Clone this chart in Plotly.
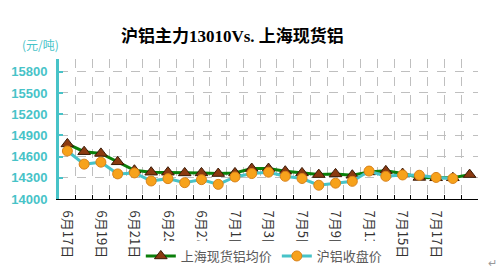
import plotly.graph_objects as go

dates = ["6月17日", "6月18日", "6月19日", "6月20日", "6月21日", "6月24日", "6月25日",
         "6月26日", "6月27日", "6月28日", "7月1日", "7月2日", "7月3日", "7月4日",
         "7月5日", "7月8日", "7月9日", "7月10日", "7月11日", "7月12日", "7月15日",
         "7月16日", "7月17日", "7月18日", "7月19日"]
spot_avg = [14779, 14669, 14645, 14526, 14407, 14379, 14379, 14369, 14369, 14360,
            14369, 14431, 14431, 14393, 14369, 14345, 14355, 14336, 14383, 14398,
            14360, 14305, 14300, 14300, 14345]
futures_close = [14679, 14493, 14521, 14355, 14369, 14255, 14288, 14231, 14274, 14207,
                 14312, 14360, 14379, 14321, 14290, 14195, 14224, 14250, 14395, 14321,
                 14340, 14336, 14305, 14290]
y_ticks = [14000, 14300, 14600, 14900, 15200, 15500, 15800]
label_every = 2
last_labelled = 22

CYAN = "#47C3C8"
tick_text = [d if (i % label_every == 0 and i <= last_labelled) else "" for i, d in enumerate(dates)]

fig = go.Figure()
fig.add_trace(go.Scatter(
    x=dates, y=spot_avg, name="上海现货铝均价", mode="lines+markers",
    line=dict(color="#0A7F0A", width=3),
    marker=dict(symbol="triangle-up", size=11, color="#8B3A10",
                line=dict(color="#3A1A05", width=1)),
))
fig.add_trace(go.Scatter(
    x=dates[:len(futures_close)], y=futures_close, name="沪铝收盘价", mode="lines+markers",
    line=dict(color=CYAN, width=3),
    marker=dict(symbol="circle", size=10, color="#F7A21B",
                line=dict(color="#D9821A", width=1)),
))

fig.update_layout(
    width=502, height=273,
    margin=dict(l=59, r=24, t=59, b=74, autoexpand=False),
    paper_bgcolor="white", plot_bgcolor="white",
    title=dict(text="<b>沪铝主力13010Vs. 上海现货铝</b>", x=0.463, xanchor="center",
               y=0.868, yanchor="middle",
               font=dict(family="Liberation Serif, Noto Sans CJK SC", size=17, color="#000000")),
    showlegend=True,
    legend=dict(orientation="h", x=0.49, xanchor="center", y=-0.3, yanchor="top",
                font=dict(family="Noto Sans CJK SC", size=13, color="#595959"),
                itemwidth=30, tracegroupgap=0, bgcolor="white"),
    font=dict(family="Liberation Sans, Noto Sans CJK SC"),
)
fig.update_xaxes(
    type="category", categoryorder="array", categoryarray=dates,
    range=[-0.5, len(dates) - 0.5], automargin=False,
    tickmode="array", tickvals=dates, ticktext=tick_text,
    tickson="boundaries", ticks="inside", ticklen=4, tickcolor="#000000",
    tickangle=90, tickfont=dict(family="Noto Sans CJK SC", size=13, color="#333333"),
    ticklabelstandoff=8,
    showline=True, linecolor="#000000", linewidth=1,
    showgrid=True, gridcolor="#BFBFBF", griddash="dash", gridwidth=1,
    zeroline=False,
)
fig.update_yaxes(
    range=[14000, 15980], automargin=False,
    tickmode="array", tickvals=y_ticks, ticktext=[str(v) for v in y_ticks],
    ticks="inside", ticklen=4, tickwidth=2, tickcolor=CYAN,
    tickfont=dict(family="Liberation Sans", size=13, color=CYAN, weight="bold"),
    ticklabelstandoff=6,
    showline=True, linecolor=CYAN, linewidth=3,
    showgrid=True, gridcolor="#BFBFBF", griddash="dash", gridwidth=1,
    zeroline=False,
)
fig.add_annotation(text="(元/吨)", xref="paper", yref="paper", x=-0.045, y=1.1,
                   xanchor="center", yanchor="middle", showarrow=False,
                   font=dict(family="Noto Sans CJK SC", size=12, color=CYAN))
fig.add_annotation(text="↵", xref="paper", yref="paper", x=1.035, y=-0.455,
                   xanchor="center", yanchor="middle", showarrow=False,
                   font=dict(size=11, color="#999999"))

fig.write_html("out.html")
